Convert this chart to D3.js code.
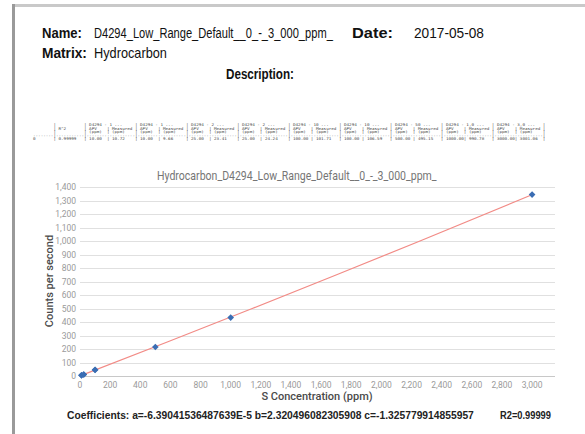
<!DOCTYPE html>
<html>
<head>
<meta charset="utf-8">
<script src="https://cdn.jsdelivr.net/npm/d3@7"></script>
<style>
  body { margin: 0; background: #fff; }
  svg { display: block; }
</style>
</head>
<body>
<div id="report"></div>
<script>
// calibration standards: nominal ppm and counts per second
const standardPpm = [10, 10, 25, 25, 100, 100, 500, 1000, 3000];
const standardCounts = [5.2, 4.7, 10.7, 11.0, 44.4, 46.5, 215.2, 432.7, 1343.6];

// fitted curve, [counts, ppm] pairs
const fitCounts = [0, 250, 500, 750, 1000, 1345];
const fitPpm = [-1.3, 575, 1143, 1703, 2256, 3004];

const xTicks = d3.range(0, 3001, 200);
const yTicks = d3.range(0, 1401, 100);

// summary table
const tableHeads = ["D4294 - 1 ...", "D4294 - 1 ...", "D4294 - 2 ...", "D4294 - 2 ...", "D4294 - 10 ...",
    "D4294 - 10 ...", "D4294 - 50 ...", "D4294 - 1,0 ...", "D4294 - 3,0 ..."];
const tableApv = ["10.00", "10.00", "25.00", "25.00", "100.00", "100.00", "500.00", "1000.00", "3000.00"];
const tableMeasured = ["10.72", "9.66", "23.41", "24.24", "101.71", "106.59", "495.15", "990.78", "3001.06"];
const r2 = "0.99999";

const reportName = "D4294_Low_Range_Default__0_-_3_000_ppm_";
const reportDate = "2017-05-08";
const matrix = "Hydrocarbon";
const coefficients = "Coefficients: a=-6.39041536487639E-5 b=2.320496082305908 c=-1.325779914855957";

const W = 585, H = 434;
const sans = "'Liberation Sans', Arial, sans-serif";

const svg = d3.select("#report").append("svg")
    .attr("width", W)
    .attr("height", H);

// squeeze a text horizontally so it spans w px (the original uses a condensed face)
const fitText = (g, x, y, w, txt) => {
    const t = g.append("text").text(txt);
    const n = t.node().getComputedTextLength();
    t.attr("transform", "translate(" + x + "," + y + ") scale(" + (w / n) + ",1)");
    return t;
};

// page frame
svg.append("rect").attr("x", 12).attr("y", 4).attr("width", W).attr("height", 3).attr("fill", "#c9c9c9");
svg.append("rect").attr("x", 12).attr("y", 4).attr("width", 3).attr("height", H).attr("fill", "#9a9a9a");

// header
const header = svg.append("g").style("font-family", sans).style("font-size", "15px").attr("fill", "#111");
const bold = header.append("g").style("font-weight", "bold");
fitText(bold, 42, 38, 40, "Name:");
fitText(header, 94, 38, 239, reportName);
fitText(bold, 352, 38, 41, "Date:");
fitText(header, 414, 38, 70, reportDate);
fitText(bold, 42, 58, 45, "Matrix:");
fitText(header, 94, 58, 73, matrix);
fitText(bold, 226, 79, 68, "Description:");

// text table
const pad = (s, n) => (s + " ".repeat(n)).slice(0, n);
const rows = [
    "        |           " + tableHeads.map(h => "| " + pad(h, 18)).join("") + "|",
    "        | R^2       " + tableHeads.map(() => "| APV    | Measured ").join("") + "|",
    "        |           " + tableHeads.map(() => "| (ppm)  | (ppm)    ").join("") + "|",
    "--------|-----------" + tableHeads.map(() => "|-------------------").join("") + "|",
    "0       | " + pad(r2, 10) + tableApv.map((a, i) => "| " + pad(a, 7) + "| " + pad(tableMeasured[i], 9)).join("") + "|"
];
const table = svg.append("g")
    .style("font-family", "'DejaVu Sans Mono', monospace")
    .style("font-size", "3.8px")
    .attr("fill", "#444");
rows.forEach((r, i) => fitText(table, 33, 126 + i * 3.6, 514, r.replace(/ /g, "\u00a0")));

// chart
const x = d3.scaleLinear().domain([0, 3152]).range([80, 555]);
const y = d3.scaleLinear().domain([0, 1400]).range([376, 187]);

const chart = svg.append("g").style("font-family", "Roboto, sans-serif");

const title = chart.append("g").style("font-size", "12.5px").attr("fill", "#757575");
fitText(title, 157, 180, 280, "Hydrocarbon_" + reportName);

chart.selectAll(".grid")
    .data(yTicks)
    .join("line")
        .attr("class", "grid")
        .attr("x1", x.range()[0]).attr("x2", x.range()[1])
        .attr("y1", d => Math.round(y(d)) + 0.5).attr("y2", d => Math.round(y(d)) + 0.5)
        .attr("stroke", d => d === 0 ? "#c8c8c8" : "#e0e0e0")
        .attr("stroke-width", 1);

chart.selectAll(".ylab")
    .data(yTicks)
    .join("text")
        .attr("class", "ylab")
        .attr("x", 76).attr("y", d => y(d) + 3)
        .attr("text-anchor", "end")
        .style("font-size", "8.5px")
        .attr("fill", "#9a9a9a")
        .text(d3.format(","));

chart.selectAll(".xlab")
    .data(xTicks)
    .join("text")
        .attr("class", "xlab")
        .attr("x", d => x(d)).attr("y", 388)
        .attr("text-anchor", "middle")
        .style("font-size", "8.5px")
        .attr("fill", "#9a9a9a")
        .text(d3.format(","));

chart.append("text")
    .attr("x", 317).attr("y", 400)
    .attr("text-anchor", "middle")
    .style("font-size", "11px")
    .style("font-weight", 500)
    .attr("fill", "#4a4a4a")
    .text("S Concentration (ppm)");

chart.append("text")
    .attr("transform", "translate(53," + 281 + ") rotate(-90)")
    .attr("text-anchor", "middle")
    .style("font-size", "11px")
    .style("font-weight", 500)
    .attr("fill", "#4a4a4a")
    .text("Counts per second");

const fit = d3.line().x(d => x(d[1])).y(d => y(d[0])).curve(d3.curveMonotoneY);
chart.append("path")
    .datum(fitCounts.map((c, i) => [c, fitPpm[i]]))
    .attr("d", fit)
    .attr("fill", "none")
    .attr("stroke", "#f28b86")
    .attr("stroke-width", 1.2);

chart.selectAll(".pt")
    .data(standardPpm.map((p, i) => [p, standardCounts[i]]))
    .join("path")
        .attr("class", "pt")
        .attr("transform", d => "translate(" + x(d[0]) + "," + y(d[1]) + ") rotate(45)")
        .attr("d", d3.symbol(d3.symbolSquare, 22))
        .attr("fill", "#3a6db3");

// footer
const foot = svg.append("g").style("font-family", sans).style("font-size", "11.5px")
    .style("font-weight", "bold").attr("fill", "#222");
fitText(foot, 67, 419, 407, coefficients);
fitText(foot, 500, 419, 51, "R2=" + r2);
</script>
</body>
</html>
